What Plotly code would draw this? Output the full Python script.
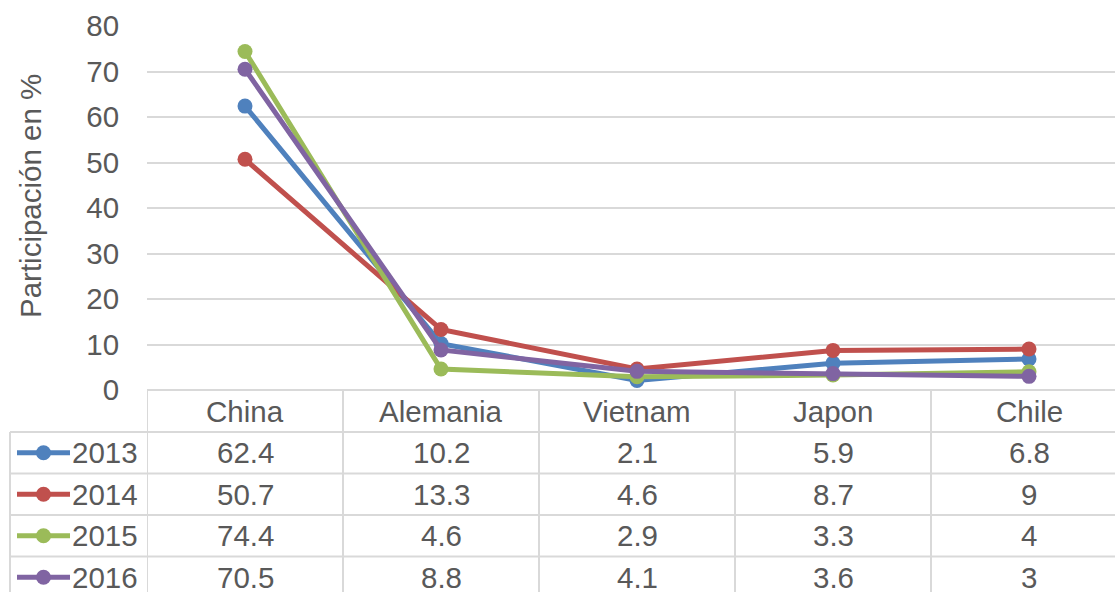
import plotly.graph_objects as go

categories = ["China", "Alemania", "Vietnam", "Japon", "Chile"]
years = ["2013", "2014", "2015", "2016"]
v2013 = [62.4, 10.2, 2.1, 5.9, 6.8]
v2014 = [50.7, 13.3, 4.6, 8.7, 9]
v2015 = [74.4, 4.6, 2.9, 3.3, 4]
v2016 = [70.5, 8.8, 4.1, 3.6, 3]
series = [v2013, v2014, v2015, v2016]
colors = ["#4F81BD", "#C0504D", "#9BBB59", "#8064A2"]
yticks = [0, 10, 20, 30, 40, 50, 60, 70, 80]

W, H = 1115, 592
L, R, T, B = 147, 0, 26, 202
PW, PH = W - L - R, H - T - B
FONT = "Liberation Sans, Arial, sans-serif"
FS = 29.5
TXT = "#595959"
GRID = "#d9d9d9"

def px_x(p):
    return (p - L) / PW

def px_y(p):
    return (H - B - p) / PH

fig = go.Figure()
xs = list(range(len(categories)))
for name, vals, col in zip(years, series, colors):
    fig.add_trace(go.Scatter(
        x=xs, y=vals, name=name, mode="lines+markers",
        line=dict(color=col, width=5),
        marker=dict(color=col, size=15),
        hoverinfo="skip",
    ))

shapes = []
annotations = []

header_top, header_bot = 390, 432
row_h = 41.5
row_tops = [header_bot + i * row_h for i in range(len(years))]
bottom = H + 10

shapes.append(dict(type="line", xref="paper", yref="paper", x0=0, x1=1.05,
                   y0=px_y(header_top), y1=px_y(header_top), line=dict(color=GRID, width=2)))
for rt in row_tops:
    shapes.append(dict(type="line", xref="paper", yref="paper", x0=px_x(10), x1=1.05,
                       y0=px_y(rt), y1=px_y(rt), line=dict(color=GRID, width=2)))
for i in range(len(categories) + 1):
    shapes.append(dict(type="line", xref="x", yref="paper", x0=i - 0.5, x1=i - 0.5,
                       y0=px_y(header_top), y1=px_y(bottom), line=dict(color=GRID, width=2)))
shapes.append(dict(type="line", xref="paper", yref="paper", x0=px_x(10), x1=px_x(10),
                   y0=px_y(header_bot), y1=px_y(bottom), line=dict(color=GRID, width=2)))

for i, c in enumerate(categories):
    annotations.append(dict(x=i, y=px_y((header_top + header_bot) / 2), xref="x", yref="paper",
                            text=c, showarrow=False, font=dict(size=FS, color=TXT, family=FONT),
                            xanchor="center", yanchor="middle"))

for r, (name, vals, col) in enumerate(zip(years, series, colors)):
    cy = px_y(row_tops[r] + row_h / 2)
    shapes.append(dict(type="line", xref="paper", yref="paper", x0=px_x(17), x1=px_x(70),
                       y0=cy, y1=cy, line=dict(color=col, width=5)))
    shapes.append(dict(type="circle", xref="paper", yref="paper", xsizemode="pixel", ysizemode="pixel",
                       xanchor=px_x(43.5), yanchor=cy, x0=-7.5, x1=7.5, y0=-7.5, y1=7.5,
                       fillcolor=col, line=dict(color=col, width=0)))
    annotations.append(dict(x=px_x(140), y=cy, xref="paper", yref="paper", text=name,
                            showarrow=False, font=dict(size=FS, color=TXT, family=FONT),
                            xanchor="right", yanchor="middle"))
    for i, v in enumerate(vals):
        annotations.append(dict(x=i, y=cy, xref="x", yref="paper", text=f"{v:g}",
                                showarrow=False, font=dict(size=FS, color=TXT, family=FONT),
                                xanchor="center", yanchor="middle"))

annotations.append(dict(x=px_x(30), y=px_y(196), xref="paper", yref="paper",
                        text="Participación en %", textangle=-90, showarrow=False,
                        font=dict(size=FS, color=TXT, family=FONT),
                        xanchor="center", yanchor="middle"))

fig.update_layout(
    width=W, height=H,
    margin=dict(l=L, r=R, t=T, b=B),
    paper_bgcolor="white", plot_bgcolor="white",
    showlegend=False,
    font=dict(family=FONT, color=TXT, size=FS),
    xaxis=dict(range=[-0.5, -0.5 + PW / 196.0], showticklabels=False, showgrid=False,
               zeroline=False, showline=False, fixedrange=True),
    yaxis=dict(range=[0, 80], tickvals=yticks, showgrid=True, gridcolor=GRID, gridwidth=2,
               zeroline=False, showline=False, ticks="outside", ticklen=21,
               tickcolor="rgba(0,0,0,0)", tickfont=dict(size=FS, color=TXT, family=FONT),
               fixedrange=True),
    shapes=shapes,
    annotations=annotations,
)

fig.write_html("out.html", config={"displayModeBar": False, "staticPlot": True},
               post_script="document.body.style.margin='0';document.body.style.overflow='hidden';")
